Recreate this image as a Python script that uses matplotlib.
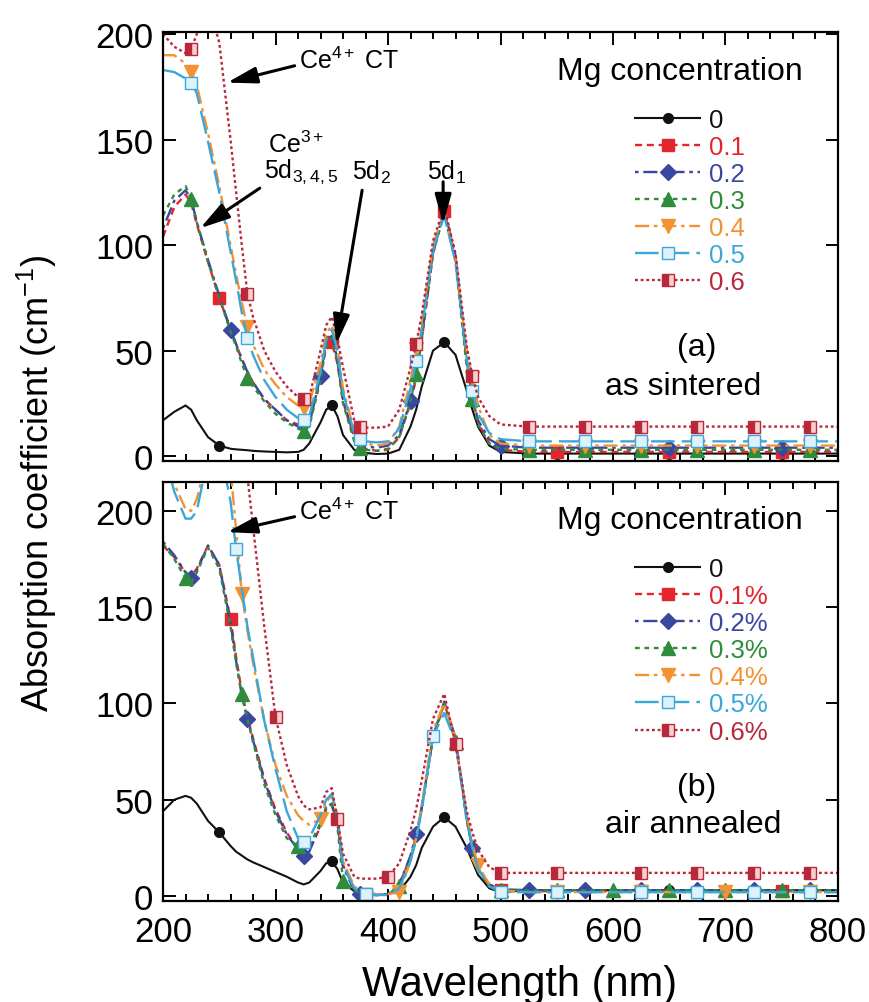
import numpy as np
import matplotlib
matplotlib.use("Agg")
import matplotlib.pyplot as plt
from matplotlib.ticker import MultipleLocator

plt.rcParams['font.family'] = ['Liberation Sans', 'DejaVu Sans']
plt.rcParams['mathtext.fontset'] = 'custom'
plt.rcParams['mathtext.rm'] = 'Liberation Sans'
plt.rcParams['mathtext.it'] = 'Liberation Sans:italic'
plt.rcParams['mathtext.bf'] = 'Liberation Sans:bold'

# wavelength grid (nm)
wl = [200, 210, 220, 225, 230, 240, 250, 260, 265, 270,
      275, 280, 290, 300, 310, 320, 325, 330, 340, 345,
      350, 355, 360, 370, 375, 380, 390, 400, 410, 420,
      425, 430, 440, 450, 460, 470, 475, 480, 490, 500,
      525, 550, 575, 600, 625, 650, 675, 700, 725, 750,
      775, 800]

# (a) as sintered
a_0 = [17, 21, 24, 22, 17, 9, 5, 3.5, 3.2, 3,
       2.8, 2.5, 2.2, 2, 1.8, 2, 3, 6, 16, 22,
       24, 19, 10, 3, 2, 1.5, 1, 1.2, 3, 14,
       22, 33, 50, 54, 48, 31, 22, 14, 5, 2,
       1.2, 1.2, 1.2, 1.2, 1.2, 1.2, 1.2, 1.2, 1.2, 1.2,
       1.2, 1.2]
a_1 = [104, 118, 124, 120, 110, 92, 75, 60, 53, 46,
       40, 35, 27, 22, 17, 15, 14, 16, 38, 52,
       54, 44, 26, 8, 5, 3.5, 2.5, 3, 9, 25,
       37, 55, 96, 116, 94, 44, 28, 16, 6, 3,
       2, 2, 2, 2, 2, 2, 2, 2, 2, 2,
       2, 2]
a_2 = [108, 121, 126, 122, 111, 93, 76, 60, 53, 46,
       40, 35, 27, 22, 17, 14, 13, 15, 38, 54,
       57, 46, 27, 9, 6, 4.5, 4, 5, 10, 26,
       38, 56, 97, 117, 95, 45, 29, 17, 8, 5,
       4, 4, 4, 4, 4, 4, 4, 4, 4, 4,
       4, 4]
a_3 = [114, 124, 128, 122, 111, 92, 75, 59, 52, 44,
       37, 33, 26, 20, 16, 13, 12, 14, 36, 52,
       56, 45, 25, 7, 4, 3, 2.5, 3.5, 9, 26,
       39, 56, 96, 115, 92, 42, 27, 15, 6, 3.5,
       3, 3, 3, 3, 3, 3, 3, 3, 3, 3,
       3, 3]
a_4 = [190, 190, 186, 182, 176, 153, 128, 100, 86, 73,
       61, 53, 41, 34, 28, 24, 23, 25, 44, 58,
       62, 52, 32, 12, 8, 6, 5, 6, 14, 36,
       51, 64, 100, 116, 93, 50, 37, 24, 10, 6,
       5, 5, 5, 5, 5, 5, 5, 5, 5, 5,
       5, 5]
a_5 = [183, 182, 179, 177, 172, 149, 125, 97, 83, 68,
       56, 48, 36, 28, 22, 18, 17, 19, 40, 55,
       60, 50, 30, 11, 8, 7, 6.5, 7, 13, 32,
       45, 60, 98, 114, 92, 46, 31, 20, 11, 8,
       7, 7, 7, 7, 7, 7, 7, 7, 7, 7,
       7, 7]
a_6 = [200, 194, 191, 193, 200, 215, 196, 150, 125, 100,
       77, 66, 50, 40, 33, 28, 27, 28, 50, 62,
       66, 56, 42, 17, 14, 13.5, 13.5, 14, 22, 42,
       53, 67, 102, 118, 96, 52, 38, 28, 19, 15,
       14, 14, 14, 14, 14, 14, 14, 14, 14, 14,
       14, 14]

# (b) air annealed
b_0 = [44, 50, 52, 51, 48, 39, 33, 26, 23, 21,
       19, 17.5, 15, 12.5, 10, 7, 6, 7, 13, 17,
       18, 14, 7, 2.5, 1.5, 1, 0.5, 1, 2.5, 10,
       16, 25, 36, 41, 36, 25, 18, 11, 4, 2,
       3, 3, 3, 3, 3, 3, 3, 3, 3, 3,
       3, 3]
b_1 = [182, 176, 168, 166, 170, 182, 172, 144, 124, 106,
       93, 82, 61, 45, 33, 24, 22, 24, 36, 45,
       47, 38, 16, 4, 2, 1, 0.5, 1, 6, 20,
       31, 46, 82, 100, 82, 40, 25, 14, 6, 3,
       2.5, 2.5, 2.5, 2.5, 2.5, 2.5, 2.5, 2.5, 2.5, 2.5,
       2.5, 2.5]
b_2 = [184, 177, 168, 165, 169, 182, 172, 142, 122, 104,
       92, 81, 60, 44, 32, 24, 21, 23, 37, 46,
       48, 38, 15, 3, 1, 0.5, 0.5, 1, 6, 21,
       32, 46, 83, 101, 82, 40, 25, 14, 6, 3.5,
       3, 3, 3, 3, 3, 3, 3, 3, 3, 3,
       3, 3]
b_3 = [183, 175, 165, 163, 168, 181, 170, 140, 121, 105,
       92, 80, 58, 42, 30, 26, 25, 26, 38, 46,
       48, 36, 8, 3, 1.5, 1, 0.5, 1, 5, 20,
       31, 45, 82, 100, 80, 39, 24, 13, 5, 3,
       3, 3, 3, 3, 3, 3, 3, 3, 3, 3,
       3, 3]
b_4 = [235, 214, 201, 200, 206, 230, 240, 222, 190, 157,
       138, 121, 91, 68, 52, 42, 39, 37, 40, 49,
       52, 42, 18, 5, 3, 2, 1, 1, 2, 18,
       30, 47, 86, 100, 82, 42, 27, 16, 6, 3,
       2, 2, 2, 2, 2, 2, 2, 2, 2, 2,
       2, 2]
b_5 = [232, 210, 196, 196, 200, 228, 235, 205, 180, 160,
       140, 124, 91, 66, 44, 30, 28, 30, 42, 50,
       53, 42, 16, 4, 2, 1, 0.5, 0.5, 4, 18,
       29, 45, 83, 95, 80, 40, 25, 14, 5, 2,
       2, 2, 2, 2, 2, 2, 2, 2, 2, 2,
       2, 2]
b_6 = [240, 240, 240, 240, 240, 240, 240, 240, 240, 235,
       218, 192, 140, 93, 68, 52, 47, 45, 46, 54,
       56, 40, 22, 10, 9, 9, 9, 10, 17, 34,
       45, 60, 92, 105, 79, 44, 33, 24, 15, 12,
       12, 12, 12, 12, 12, 12, 12, 12, 12, 12,
       12, 12]

# wavelengths where symbols sit
marks_a = [[250, 350, 450, 550, 650, 750],
           [250, 350, 450, 550, 650, 750],
           [260, 340, 420, 500, 575, 650, 750],
           [225, 275, 325, 375, 425, 475, 525, 575, 625, 675, 725, 775],
           [225, 275, 325, 375, 425, 475, 525, 575, 625, 675, 725, 775],
           [225, 275, 325, 375, 425, 475, 525, 575, 625, 675, 725, 775],
           [225, 275, 325, 375, 425, 475, 525, 575, 625, 675, 725, 775]]
marks_b = [[250, 350, 450, 550, 650, 750],
           [260, 380, 500, 625, 750],
           [225, 275, 325, 375, 425, 475, 525, 575, 625, 675, 725, 775],
           [220, 270, 320, 360, 410, 460, 500, 550, 600, 650, 700, 750],
           [270, 340, 410, 480, 550, 625, 700, 775],
           [265, 325, 380, 440, 500, 550, 625, 675, 725, 775],
           [300, 355, 400, 460, 500, 550, 625, 675, 725, 775]]

labels_a = ['0', '0.1', '0.2', '0.3', '0.4', '0.5', '0.6']
labels_b = ['0', '0.1%', '0.2%', '0.3%', '0.4%', '0.5%', '0.6%']

colors = ['#111111', '#e3262e', '#3a47a0', '#2e8c3c', '#f29233', '#3aa7da', '#b8283a']
dashes = ['-', (0, (3, 2)), (0, (1.5, 2, 6, 2)), (0, (2, 2)), (0, (6, 2, 1.5, 2)),
          (0, (10, 3)), (0, (1.2, 1.2))]
styles = [dict(marker='o', ms=7, mfc=colors[0], mec=colors[0]),
          dict(marker='s', ms=9, mfc=colors[1], mec=colors[1]),
          dict(marker='D', ms=8, mfc=colors[2], mec=colors[2]),
          dict(marker='^', ms=10, mfc=colors[3], mec=colors[3]),
          dict(marker='v', ms=10, mfc=colors[4], mec=colors[4]),
          dict(marker='s', ms=9, mfc='#dff2fb', mec=colors[5]),
          dict(marker='s', ms=9, mfc=colors[6], mec=colors[6],
               fillstyle='left', markerfacecoloralt='#f7d0d0')]

fig = plt.figure(figsize=(8.69, 10.03), dpi=100)
ax_a = fig.add_axes([0.1876, 0.5394, 0.7767, 0.4277])
ax_b = fig.add_axes([0.1876, 0.1007, 0.7767, 0.4177])

x = np.array(wl)


def draw(ax, series, marks, labels, ylim, leg_y):
    handles = []
    for i, y in enumerate(series):
        idx = list(np.flatnonzero(np.isin(x, marks[i])))
        lw = 1.5 if i == 0 else 1.7
        h, = ax.plot(x, y, color=colors[i], linestyle=dashes[i], lw=lw,
                     markevery=idx, label=labels[i], **styles[i])
        handles.append(h)
    ax.set_xlim(200, 800)
    ax.set_ylim(*ylim)
    ax.xaxis.set_major_locator(MultipleLocator(100))
    ax.xaxis.set_minor_locator(MultipleLocator(20))
    ax.yaxis.set_major_locator(MultipleLocator(50))
    ax.tick_params(which='both', direction='in', top=True, right=True,
                   labelsize=25, width=1.4)
    ax.tick_params(which='major', length=9)
    ax.tick_params(axis='y', which='major', pad=7)
    ax.tick_params(axis='x', which='major', pad=10)
    ax.tick_params(which='minor', length=5)
    for s in ax.spines.values():
        s.set_linewidth(1.6)
    ax.text(0.766, 0.91, 'Mg concentration', transform=ax.transAxes,
            ha='center', va='center', fontsize=23)
    ax.legend(handles=handles, loc='upper left', bbox_to_anchor=(0.70, leg_y),
              frameon=False, fontsize=18.5, numpoints=1, handlelength=2.5,
              handletextpad=0.35, labelspacing=0.12, borderpad=0,
              borderaxespad=0, labelcolor='linecolor')


draw(ax_a, [a_0, a_1, a_2, a_3, a_4, a_5, a_6], marks_a, labels_a, (-2.3, 201), 0.823)
draw(ax_b, [b_0, b_1, b_2, b_3, b_4, b_5, b_6], marks_b, labels_b, (-2.6, 215), 0.821)
ax_a.set_xticklabels([])

ax_a.text(0.791, 0.266, '(a)', transform=ax_a.transAxes, ha='center', va='center', fontsize=23)
ax_a.text(0.770, 0.175, 'as sintered', transform=ax_a.transAxes, ha='center', va='center', fontsize=23)
ax_b.text(0.791, 0.272, '(b)', transform=ax_b.transAxes, ha='center', va='center', fontsize=23)
ax_b.text(0.785, 0.184, 'air annealed', transform=ax_b.transAxes, ha='center', va='center', fontsize=23)

arrow = dict(arrowstyle='-|>,head_length=0.9,head_width=0.25', color='black',
             lw=2.2, shrinkA=0, shrinkB=0, mutation_scale=20)

# annotations, panel (a)
ax_a.annotate('', xy=(257, 177), xytext=(317, 185), arrowprops=arrow)
ax_a.text(321, 188, 'Ce$^{4+}$ CT', fontsize=18, ha='left', va='center')
ax_a.annotate('', xy=(233, 108), xytext=(286, 127), arrowprops=arrow)
ax_a.text(293, 148, 'Ce$^{3+}$', fontsize=18, ha='left', va='center')
ax_a.text(290, 135, '5d$_{3,4,5}$', fontsize=18, ha='left', va='center')
ax_a.annotate('', xy=(354, 53), xytext=(377, 126), arrowprops=arrow)
ax_a.text(368, 135, '5d$_{2}$', fontsize=18, ha='left', va='center')
ax_a.annotate('', xy=(449, 110), xytext=(449, 130), arrowprops=arrow)
ax_a.text(435, 135, '5d$_{1}$', fontsize=18, ha='left', va='center')

# annotation, panel (b)
ax_b.annotate('', xy=(257, 189), xytext=(317, 197), arrowprops=arrow)
ax_b.text(321, 200, 'Ce$^{4+}$ CT', fontsize=18, ha='left', va='center')

fig.text(0.043, 0.518, 'Absorption coefficient (cm$^{-1}$)', rotation=90,
         ha='center', va='center', fontsize=26)
fig.text(0.598, 0.018, 'Wavelength (nm)', ha='center', va='center', fontsize=30)

fig.savefig('out.png', dpi=100)
